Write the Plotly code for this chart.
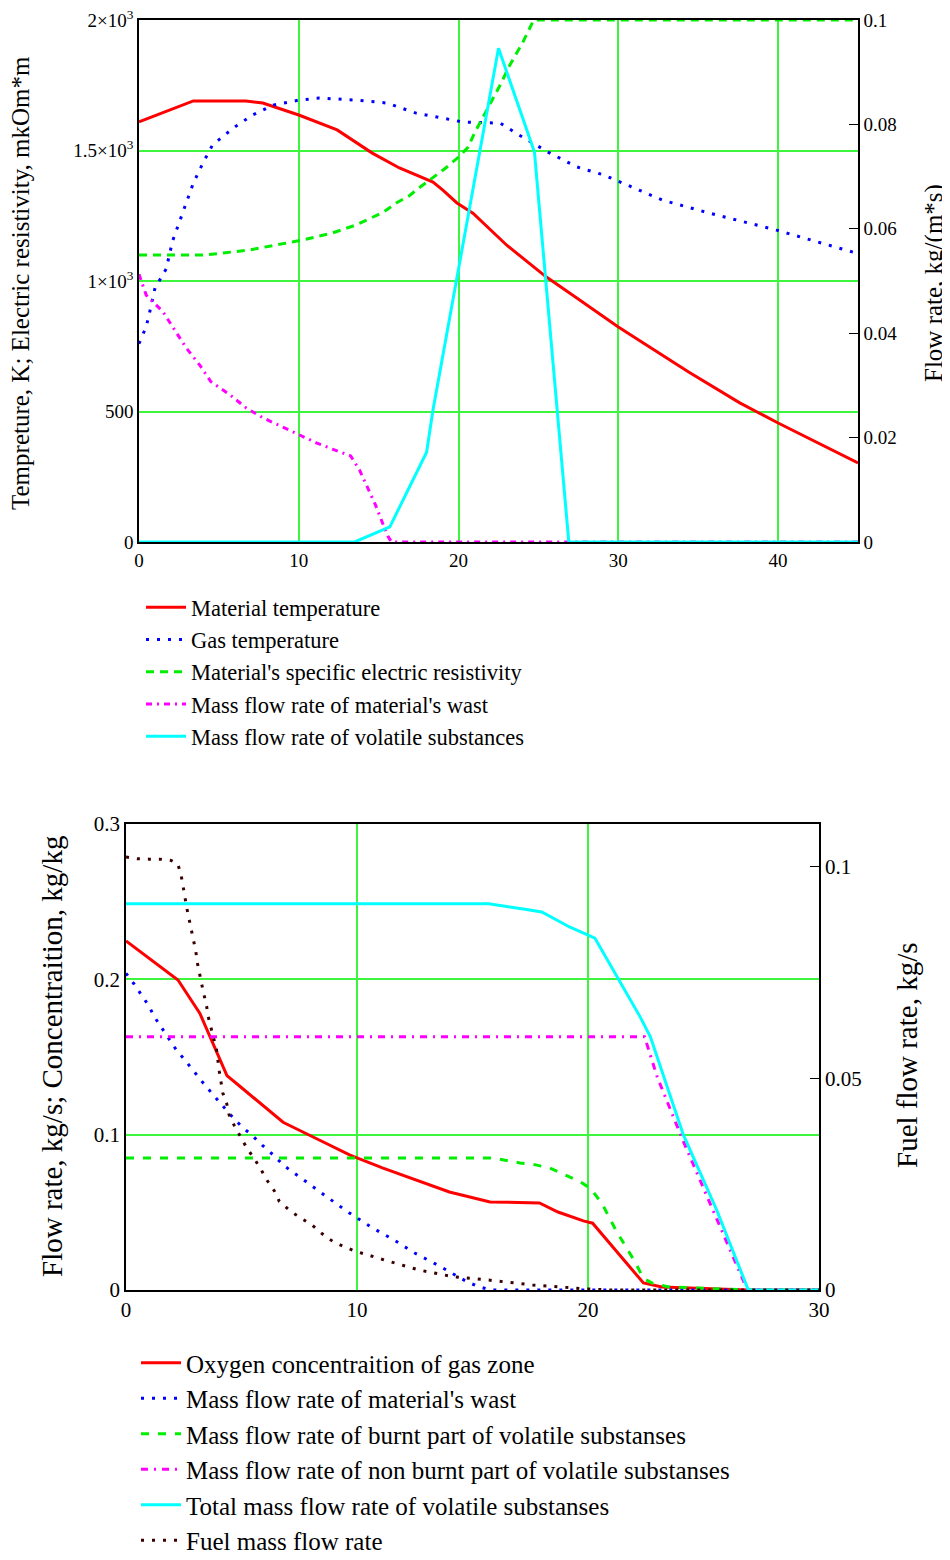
import plotly.graph_objects as go

# The page places the figure 8 px from the top-left corner of the window.
OFF = 8
W, H = 942, 1552
FONT = "Liberation Serif"
GRID = "#3cf53c"

# ---------------- Top chart data ----------------
mt_x = [0, 3.4, 6.7, 7.75, 10, 12.4, 14.6, 16.3, 18.4, 19, 19.9, 20.9, 23, 25.5, 27.4, 30, 34.4, 37.6, 40, 45]
mt_y = [1610, 1690, 1690, 1682, 1636, 1579, 1490, 1433, 1379, 1349, 1299, 1260, 1138, 1015, 935, 824, 651, 533, 456, 303]

gt_x = [0, 0.2, 0.44, 0.6, 0.8, 1.0, 1.7, 2.1, 2.75, 3.4, 4.0, 4.6, 5.9, 7.1, 8.4, 10, 11.3, 13.6, 15.5, 17.3, 19,
        20.3, 22.6, 23.8, 25.6, 27.4, 29.1, 31.5, 32.75, 35.7, 39.9, 45]
gt_y = [760, 789, 824, 862, 923, 973, 1046, 1153, 1264, 1375, 1452, 1521, 1586, 1636, 1674, 1693, 1701, 1693, 1682,
        1644, 1624, 1609, 1605, 1559, 1494, 1437, 1406, 1341, 1310, 1260, 1195, 1105]

er_x = [0, 4, 5, 7, 10.25, 12.1, 13.6, 14.4, 15.3, 16.1, 16.9, 17.6, 18.4, 19.2, 20.0, 20.6, 21.0, 21.5, 22.25, 22.7,
        23.1, 23.5, 24.0, 24.4, 24.7, 45]
er_y = [1100, 1100, 1105, 1120, 1157, 1184, 1215, 1238, 1264, 1299, 1326, 1360, 1395, 1433, 1475, 1513, 1567, 1625,
        1713, 1762, 1816, 1858, 1912, 1962, 2000, 2000]

mw_x = [0, 0.45, 1.5, 2.25, 2.95, 3.8, 4.5, 5.7, 6.7, 7.75, 8.9, 9.9, 11.1, 12.1, 13.25, 13.8, 14.3, 14.8, 15.25,
        15.6, 15.8, 45]
mw_y = [0.0513, 0.0473, 0.0441, 0.0406, 0.0372, 0.0339, 0.0307, 0.0282, 0.0257, 0.0238, 0.0221, 0.0207, 0.019,
        0.0178, 0.0165, 0.0138, 0.0105, 0.0071, 0.0036, 0.001, 0, 0]

vs_x = [0, 13.5, 15.7, 18.0, 18.4, 22.5, 24.75, 26.9, 45]
vs_y = [0, 0, 0.0029, 0.0172, 0.0253, 0.0946, 0.0747, 0, 0]

top_x_ticks = [0, 10, 20, 30, 40]
top_yl_ticks = [0, 500, 1000, 1500, 2000]
top_yl_text = ["0", "500", "1×10<sup>3</sup>", "1.5×10<sup>3</sup>", "2×10<sup>3</sup>"]
top_yr_ticks = [0, 0.02, 0.04, 0.06, 0.08, 0.1]
top_yr_text = ["0", "0.02", "0.04", "0.06", "0.08", "0.1"]

# ---------------- Bottom chart data ----------------
ox_x = [0, 2.25, 3.2, 4.07, 4.37, 4.94, 5.93, 6.8, 8.1, 9.7, 11.1, 12.6, 14.0, 15.76, 17.9, 18.7, 19.8, 20.2, 22.4,
        23.2, 25, 26.9, 30]
ox_y = [0.2247, 0.1996, 0.178, 0.149, 0.138, 0.131, 0.119, 0.108, 0.0985, 0.0869, 0.0786, 0.0708, 0.0631, 0.0567,
        0.056, 0.0502, 0.0445, 0.043, 0.0045, 0.002, 0.001, 0, 0]

bw_x = [0, 0.35, 0.68, 0.99, 1.23, 1.54, 1.86, 2.16, 2.55, 2.94, 3.32, 3.72, 4.11, 4.53, 4.98, 5.44, 5.92, 6.38, 6.84,
        7.32, 7.79, 8.25, 8.73, 9.22, 9.65, 10.6, 11.6, 12.5, 13.5, 14.3, 14.8, 15.3, 15.8, 30]
bw_y = [0.2039, 0.197, 0.1897, 0.1829, 0.1758, 0.1687, 0.1618, 0.155, 0.148, 0.1406, 0.1337, 0.1266, 0.1198, 0.1127,
        0.1056, 0.0998, 0.0929, 0.0869, 0.08, 0.0751, 0.0698, 0.0648, 0.0594, 0.0543, 0.0498, 0.0406, 0.0322, 0.0238,
        0.016, 0.009, 0.005, 0.002, 0, 0]

gb_x = [0, 15.9, 17.05, 17.6, 18.35, 19.65, 20.1, 20.6, 21.24, 22.03, 22.4, 22.8, 23.5, 25, 26.9, 30]
gb_y = [0.085, 0.085, 0.0818, 0.081, 0.0785, 0.0697, 0.0655, 0.0558, 0.0376, 0.0182, 0.0075, 0.0043, 0.002, 0.001,
        0, 0]

nb_x = [0, 22.45, 23, 24.1, 26.9, 30]
nb_y = [0.163, 0.163, 0.137, 0.0966, 0, 0]

tv_x = [0, 15.7, 17.2, 18.0, 19.2, 19.95, 20.3, 22.25, 22.7, 24.13, 25.57, 26.94, 30]
tv_y = [0.2486, 0.2486, 0.2453, 0.2434, 0.2337, 0.2286, 0.2265, 0.176, 0.163, 0.0998, 0.0515, 0, 0]

fu_x = [0, 0.5, 1.0, 1.47, 1.95, 2.24, 2.38, 2.45, 2.55, 2.63, 2.73, 2.81, 2.91, 3.02, 3.09, 3.17, 3.28, 3.38, 3.49,
        3.56, 3.67, 3.78, 3.92, 4.04, 4.19, 4.36, 4.46, 4.69, 4.96, 5.22, 5.54, 5.83, 6.09, 6.41, 6.64, 7.1, 7.56,
        8.04, 8.51, 8.97, 9.45, 9.9, 11.3, 12.7, 14.2, 15.6, 17.6, 19.8, 21, 30]
fu_y = [0.1022, 0.1018, 0.1017, 0.1017, 0.1014, 0.1006, 0.0981, 0.0955, 0.0928, 0.0902, 0.0876, 0.0851, 0.0825,
        0.08, 0.0772, 0.0747, 0.0721, 0.0696, 0.067, 0.0645, 0.0619, 0.0593, 0.0567, 0.0516, 0.0465, 0.044, 0.0414,
        0.0388, 0.0362, 0.0336, 0.0311, 0.0286, 0.026, 0.0235, 0.0209, 0.0187, 0.017, 0.0154, 0.0132, 0.0114, 0.0102,
        0.0092, 0.0069, 0.0047, 0.0031, 0.0024, 0.0012, 0.0003, 0, 0]

bot_x_ticks = [0, 10, 20, 30]
bot_yl_ticks = [0, 0.1, 0.2, 0.3]
bot_yl_text = ["0", "0.1", "0.2", "0.3"]
bot_yr_ticks = [0, 0.05, 0.1]
bot_yr_text = ["0", "0.05", "0.1"]

fig = go.Figure()

def add(x, y, name, color, dash, xa, ya, legend, group):
    fig.add_trace(go.Scatter(x=x, y=y, mode="lines", name=name, xaxis=xa, yaxis=ya,
                             line=dict(color=color, width=3, dash=dash),
                             legend=legend, legendgroup=group, hoverinfo="skip"))

add(mt_x, mt_y, "Material temperature", "#ff0000", "solid", "x", "y", "legend", "a1")
add(gt_x, gt_y, "Gas temperature", "#0000ff", "3px,8px", "x", "y", "legend", "a2")
add(er_x, er_y, "Material's specific electric resistivity", "#00ee00", "8px,6px", "x", "y", "legend", "a3")
add(mw_x, mw_y, "Mass flow rate of material's wast", "#ff00ff", "6px,5px,2px,5px", "x", "y2", "legend", "a4")
add(vs_x, vs_y, "Mass flow rate of volatile substances", "#00ffff", "solid", "x", "y2", "legend", "a5")

add(ox_x, ox_y, "Oxygen concentraition of gas zone", "#ff0000", "solid", "x2", "y3", "legend2", "b1")
add(bw_x, bw_y, "Mass flow rate of material's wast", "#0000ff", "3px,8px", "x2", "y3", "legend2", "b2")
add(gb_x, gb_y, "Mass flow rate of burnt part of volatile substanses", "#00ee00", "8px,9px", "x2", "y3", "legend2", "b3")
add(nb_x, nb_y, "Mass flow rate of non burnt part of volatile substanses", "#ff00ff", "7px,6px,2px,6px", "x2", "y3", "legend2", "b4")
add(tv_x, tv_y, "Total mass flow rate of volatile substanses", "#00ffff", "solid", "x2", "y3", "legend2", "b5")
add(fu_x, fu_y, "Fuel mass flow rate", "#3a0000", "3px,8px", "x2", "y4", "legend2", "b6")

def px_x(p):
    return (p - OFF) / W

def px_y(p):
    return 1 - (p - OFF) / H

axis_common = dict(showline=True, linecolor="black", linewidth=1.5, zeroline=False,
                   ticklabeloverflow="allow",
                   tickfont=dict(family=FONT, size=19, color="black"))
big_tick = dict(family=FONT, size=21, color="black")

fig.update_layout(
    width=W, height=H, margin=dict(l=0, r=0, t=0, b=0, pad=0, autoexpand=False),
    paper_bgcolor="white", plot_bgcolor="white",
    font=dict(family=FONT, color="black"),
    xaxis=dict(domain=[px_x(139), px_x(858)], anchor="y", range=[0, 45], tickvals=top_x_ticks,
               showgrid=True, gridcolor=GRID, gridwidth=1.5, mirror=True, ticks="", **axis_common),
    yaxis=dict(domain=[px_y(542), px_y(20)], anchor="x", range=[0, 2000], tickvals=top_yl_ticks,
               ticktext=top_yl_text, showgrid=True, gridcolor=GRID, gridwidth=1.5, ticks="", **axis_common),
    yaxis2=dict(overlaying="y", side="right", anchor="x", range=[0, 0.1], tickvals=top_yr_ticks,
                ticktext=top_yr_text, showgrid=False, ticks="inside", ticklen=9, tickcolor="black",
                **axis_common),
    xaxis2=dict(domain=[px_x(126), px_x(819)], anchor="y3", range=[0, 30], tickvals=bot_x_ticks,
                showgrid=True, gridcolor=GRID, gridwidth=1.5, mirror=True, ticks="",
                **{**axis_common, "tickfont": big_tick}),
    yaxis3=dict(domain=[px_y(1290), px_y(824)], anchor="x2", range=[0, 0.3], tickvals=bot_yl_ticks,
                ticktext=bot_yl_text, showgrid=True, gridcolor=GRID, gridwidth=1.5, ticks="",
                **{**axis_common, "tickfont": big_tick}),
    yaxis4=dict(overlaying="y3", side="right", anchor="x2", range=[0, 0.11], tickvals=bot_yr_ticks,
                ticktext=bot_yr_text, showgrid=False, ticks="inside", ticklen=9, tickcolor="black",
                **{**axis_common, "tickfont": big_tick}),
    legend=dict(x=px_x(141), y=px_y(586), xanchor="left", yanchor="top", traceorder="grouped",
                tracegroupgap=0, font=dict(family=FONT, size=22.5, color="black"),
                bgcolor="rgba(0,0,0,0)", itemwidth=40),
    legend2=dict(x=px_x(136), y=px_y(1340), xanchor="left", yanchor="top", traceorder="grouped",
                 tracegroupgap=0, font=dict(family=FONT, size=25, color="black"),
                 bgcolor="rgba(0,0,0,0)", itemwidth=40),
    showlegend=True,
)

annots = [
    dict(text="Tempreture, K; Electric resistivity, mkOm*m", x=px_x(20), y=px_y(283), size=25),
    dict(text="Flow rate, kg/(m*s)", x=px_x(934), y=px_y(283), size=25),
    dict(text="Flow rate, kg/s; Concentraition, kg/kg", x=px_x(52), y=px_y(1057), size=29),
    dict(text="Fuel flow rate, kg/s", x=px_x(907), y=px_y(1055), size=29),
]
for a in annots:
    fig.add_annotation(text=a["text"], x=a["x"], y=a["y"], xref="paper", yref="paper", showarrow=False,
                       textangle=-90, xanchor="center", yanchor="middle",
                       font=dict(family=FONT, size=a["size"], color="black"))

fig.write_html("out.html")
